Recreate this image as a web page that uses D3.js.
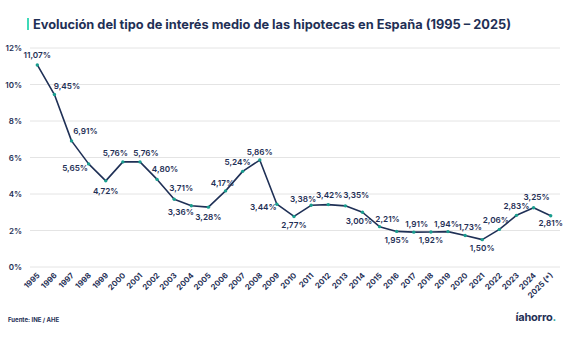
<!DOCTYPE html>
<html>
<head>
<meta charset="utf-8">
<script src="https://cdn.jsdelivr.net/npm/d3@7"></script>
<style>
	html, body { margin: 0; padding: 0; background: #fff; }
	svg { display: block; font-family: Inter, 'Open Sans', sans-serif; }
</style>
</head>
<body>
<svg id="chart" width="567" height="340"></svg>
<script>
/* global d3 */

const years = ['1995', '1996', '1997', '1998', '1999', '2000', '2001', '2002', '2003', '2004',
	'2005', '2006', '2007', '2008', '2009', '2010', '2011', '2012', '2013', '2014', '2015',
	'2016', '2017', '2018', '2019', '2020', '2021', '2022', '2023', '2024', '2025 (*)'];

const rates = [11.07, 9.45, 6.91, 5.65, 4.72, 5.76, 5.76, 4.80, 3.71, 3.36,
	3.28, 4.17, 5.24, 5.86, 3.44, 2.77, 3.38, 3.42, 3.35, 3.00, 2.21,
	1.95, 1.91, 1.92, 1.94, 1.73, 1.50, 2.06, 2.83, 3.25, 2.81];

const yTicks = [0, 2, 4, 6, 8, 10, 12];

// where each value label sits relative to its point [dx, dy]
const labelOffset = [
	[0, -6.5], [12.5, -6], [14, -6.5], [-13.5, 7], [0, 13], [-7.5, -6], [6, -6], [8, -7], [7, -8.5], [-10.5, 9],
	[0, 12.5], [-3, -5], [-5, -6], [0, -5.5], [-13.5, 5.5], [0, 12], [-8, -3.5], [1, -7], [11, -8], [-3.5, 11.5],
	[8, -5], [0, 11.5], [3, -5.5], [0, 11], [-1.5, -5], [5, -5], [0, 11], [-3.5, -6], [0, -6.5], [3, -8], [0, 10]
];

const navy = '#1f3056';
const teal = '#1a9e8f';

const svg = d3.select('#chart');

const x = d3.scalePoint().domain(years).range([37.3, 550.7]);
const y = d3.scaleLinear().domain([0, 12]).range([267, 48]);

const fmt = v => d3.format('.2f')(v).replace('.', ',') + '%';

// title
svg.append('rect')
	.attr('x', 27).attr('y', 18).attr('width', 2).attr('height', 12)
	.attr('fill', '#3fd9b8');
svg.append('text')
	.attr('x', 33).attr('y', 28.5)
	.attr('fill', navy)
	.attr('font-size', 12.8)
	.attr('font-weight', 700)
	.text('Evolución del tipo de interés medio de las hipotecas en España (1995 – 2025)');

// horizontal grid + y labels
const grid = svg.append('g');
grid.selectAll('line')
	.data(yTicks)
	.enter().append('line')
		.attr('x1', 30).attr('x2', 560)
		.attr('y1', d => y(d)).attr('y2', d => y(d))
		.attr('stroke', '#e4e4e4').attr('stroke-width', 1);
grid.selectAll('text')
	.data(yTicks)
	.enter().append('text')
		.attr('x', 22).attr('y', d => y(d) + 3)
		.attr('text-anchor', 'end')
		.attr('fill', navy)
		.attr('font-size', 8)
		.attr('font-weight', 600)
		.text(d => d + '%');

// x axis labels, rotated
svg.append('g').selectAll('text')
	.data(years)
	.enter().append('text')
		.attr('transform', d => `translate(${x(d) + 3},${276}) rotate(-45)`)
		.attr('text-anchor', 'end')
		.attr('fill', navy)
		.attr('font-size', 7.8)
		.attr('font-weight', 700)
		.text(d => d);

// line
const line = d3.line()
	.x((d, i) => x(years[i]))
	.y(d => y(d));

svg.append('path')
	.datum(rates)
	.attr('d', line)
	.attr('fill', 'none')
	.attr('stroke', navy)
	.attr('stroke-width', 1.6)
	.attr('stroke-linejoin', 'round');

svg.append('g').selectAll('circle')
	.data(rates)
	.enter().append('circle')
		.attr('cx', (d, i) => x(years[i]))
		.attr('cy', d => y(d))
		.attr('r', 1.7)
		.attr('fill', teal);

// value labels
svg.append('g').selectAll('text')
	.data(rates)
	.enter().append('text')
		.attr('x', (d, i) => x(years[i]) + labelOffset[i][0])
		.attr('y', (d, i) => y(d) + labelOffset[i][1])
		.attr('text-anchor', 'middle')
		.attr('fill', navy)
		.attr('font-size', 8.2)
		.attr('font-weight', 600)
		.text(fmt);

// footer
svg.append('text')
	.attr('x', 8).attr('y', 322)
	.attr('fill', navy)
	.attr('font-size', 6)
	.attr('font-weight', 700)
	.text('Fuente: INE / AHE');

const logo = svg.append('text')
	.attr('x', 556).attr('y', 321)
	.attr('text-anchor', 'end')
	.attr('fill', navy)
	.attr('font-size', 11)
	.attr('font-weight', 700)
	.attr('letter-spacing', -0.2);
logo.append('tspan').text('íahorro');
logo.append('tspan').attr('fill', teal).text('.');
</script>
</body>
</html>
